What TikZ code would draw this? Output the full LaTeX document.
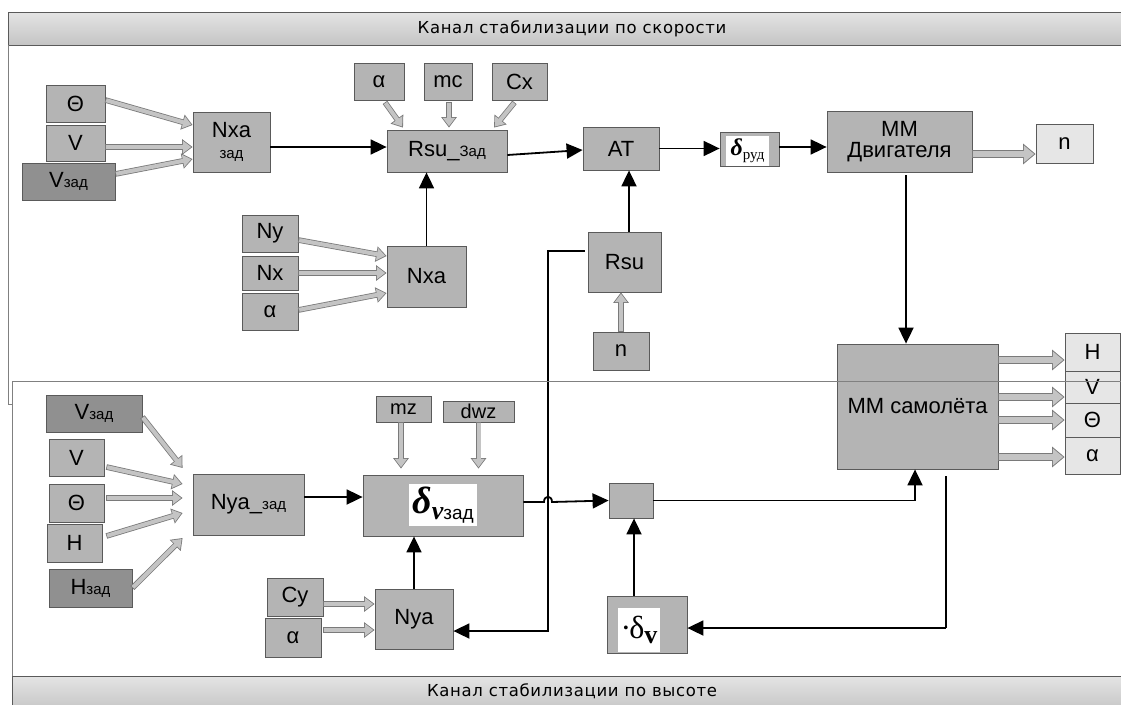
\documentclass[tikz,border=0pt]{standalone}
\usepackage{fontspec}
\setmainfont{Liberation Sans}
\newfontfamily\ser{Liberation Serif}
\newfontfamily\bandf[LetterSpace=4]{DejaVu Sans}
\usetikzlibrary{arrows.meta,calc}
\definecolor{bx}{HTML}{B4B4B4}
\definecolor{bxd}{HTML}{909090}
\definecolor{bxl}{HTML}{E6E6E6}
\definecolor{edgec}{HTML}{5A5A5A}
\definecolor{afill}{HTML}{C4C4C4}
\definecolor{aedge}{HTML}{7A7A7A}
\definecolor{bandt}{HTML}{E4E4E4}
\definecolor{bandb}{HTML}{C4C4C4}
\definecolor{framec}{HTML}{808080}
\begin{document}
\begin{tikzpicture}[x=1pt,y=-1pt,
 box/.style={draw=edgec, line width=0.8pt, fill=bx, inner sep=0pt, font=\fontsize{22}{24}\selectfont, align=center},
 dbox/.style={box, fill=bxd},
 lbox/.style={box, fill=bxl},
 wlab/.style={fill=white, inner sep=0pt},
 blk/.style={line width=1.8pt, -{Triangle[length=16pt,width=15pt]}},
 garrow/.style={line width=4pt, draw=afill, shorten <=0.8pt, shorten >=1.4pt, -{Triangle[length=8.3pt,width=11.9pt]},
   preaction={draw=aedge, line width=5.6pt, shorten <=0pt, shorten >=0pt, -{Triangle[length=10.5pt,width=15pt]}}},
 garrowb/.style={line width=5.8pt, draw=afill, shorten <=0.9pt, shorten >=1.45pt, -{Triangle[length=10.2pt,width=16.3pt]},
   preaction={draw=aedge, line width=7.6pt, shorten <=0pt, shorten >=0pt, -{Triangle[length=12.5pt,width=20pt]}}},
 frame/.style={draw=framec, line width=0.8pt},
 bandtext/.style={font=\bandf\fontsize{16.5}{16.5}\selectfont},
]
\useasboundingbox (0,0) rectangle (1121,704);
\def\sm{\fontsize{15}{15}\selectfont}

% bands
\shade[top color=bandt, bottom color=bandb, draw=edgec, line width=1pt] (8,12) rectangle (1130,45);
\node[bandtext] (t1) at (572,29) {Канал стабилизации по скорости};
\shade[top color=bandt, bottom color=bandb, draw=edgec, line width=1pt] (12,676) rectangle (1130,712);
\node[bandtext] (t2) at (572,691) {Канал стабилизации по высоте};

% ---- top channel
\node[box, minimum width=59, minimum height=37] (th1) at (75.5,103.5) {Θ};
\node[box, minimum width=59, minimum height=36] (v1) at (75.5,143) {V};
\node[dbox, minimum width=93, minimum height=37] (vz1) at (68.5,181.5) {V{\sm зад}};
\node[box, minimum width=77, minimum height=60] (nxz) at (231.5,142) {Nxa\\[-3pt]{\sm зад}};
\node[box, minimum width=50, minimum height=37] (al1) at (379,81.5) {α};
\node[box, minimum width=48, minimum height=37] (mc) at (448,81.5) {mc};
\node[box, minimum width=55, minimum height=37] (cx) at (519.5,81.5) {Cx};
\node[box, minimum width=120, minimum height=42] (rsz) at (447,151) {Rsu\_{\sm Зад}};
\node[box, minimum width=76, minimum height=43] (at) at (621,148.5) {AT};
\node[box, minimum width=59, minimum height=34] (dr) at (749.5,149) {};
\node[wlab, minimum width=43, minimum height=30] (drl) at (747.5,151) {{\ser\bfseries\itshape\fontsize{24}{24}\selectfont δ}\raisebox{-4pt}{\ser\fontsize{15}{15}\selectfont руд}};
\node[box, minimum width=145, minimum height=61] (mmd) at (899.5,141.5) {ММ\\[-3pt]Двигателя};
\node[lbox, minimum width=57, minimum height=39] (n1) at (1064.5,143.5) {n};
\node[box, minimum width=56, minimum height=37] (ny) at (270,233.5) {Ny};
\node[box, minimum width=56, minimum height=34] (nx) at (270,273) {Nx};
\node[box, minimum width=56, minimum height=37] (al2) at (270,311.5) {α};
\node[box, minimum width=79, minimum height=61] (nxa) at (426.5,276.5) {Nxa};
\node[box, minimum width=73, minimum height=60] (rsu) at (624.5,262) {Rsu};
\node[box, minimum width=56, minimum height=38] (n2) at (621,351) {n};

% ---- bottom channel
\node[dbox, minimum width=96, minimum height=37] (vz2) at (94,413.5) {V{\sm зад}};
\node[box, minimum width=55, minimum height=37] (v2) at (76.5,457.5) {V};
\node[box, minimum width=55, minimum height=38] (th2) at (76.5,503) {Θ};
\node[box, minimum width=55, minimum height=38] (h2) at (74.5,543) {H};
\node[dbox, minimum width=83, minimum height=38] (hz2) at (90.5,588) {H{\sm зад}};
\node[box, minimum width=111, minimum height=61] (nyz) at (248.5,504.5) {Nya\_{\sm зад}};
\node[box, minimum width=55, minimum height=26, font=\fontsize{20}{20}\selectfont] (mz) at (403.5,409) {mz};
\node[box, minimum width=71, minimum height=21, font=\fontsize{20}{20}\selectfont] (dwz) at (478.5,411.5) {dwz};
\node[box, minimum width=160, minimum height=61] (dvz) at (443,505.5) {};
\node[wlab, minimum width=68, minimum height=42] (dvzl) at (443,505) {{\ser\bfseries\itshape\fontsize{38}{38}\selectfont δ}\raisebox{-6pt}{{\ser\bfseries\itshape\fontsize{26}{26}\selectfont v}{\fontsize{19}{19}\selectfont зад}}};
\node[box, minimum width=44, minimum height=35] (sb) at (631,500.5) {};
\node[box, minimum width=161, minimum height=125] (mms) at (917.5,406.5) {ММ самолёта};
\node[lbox, minimum width=55, minimum height=38] (oh) at (1092.5,352) {H};
\node[lbox, minimum width=55, minimum height=32] (ov) at (1092.5,387) {V};
\node[lbox, minimum width=55, minimum height=34] (oth) at (1092.5,420) {Θ};
\node[lbox, minimum width=55, minimum height=37] (oal) at (1092.5,455.5) {α};
\node[box, minimum width=56, minimum height=38] (cy) at (295,597) {Cy};
\node[box, minimum width=56, minimum height=39] (al3) at (293,637.5) {α};
\node[box, minimum width=78, minimum height=60] (nya) at (414,619) {Nya};
\node[box, minimum width=80, minimum height=57] (dv) at (647,624.5) {};
\node[wlab, minimum width=42, minimum height=44] (dvl) at (639,630) {{\ser\fontsize{32}{32}\selectfont ·\kern-2ptδ}\raisebox{-5pt}{\ser\bfseries\fontsize{26}{26}\selectfont v}};

% ---- gray arrows (top)
\draw[garrow] ($(th1.east)+(0,-3.5)$) -- ($(nxz.west)+(0,-17)$);
\draw[garrow] ($(v1.east)+(0,4)$) -- ($(nxz.west)+(0,5)$);
\draw[garrow] ($(vz1.east)+(0,-7.5)$) -- ($(nxz.west)+(0,17)$);
\draw[garrow] ($(al1.south)+(6,2)$) -- ($(rsz.north)+(-44,-2)$);
\draw[garrow] ($(mc.south)+(1,2)$) -- ($(rsz.north)+(2,-2)$);
\draw[garrow] ($(cx.south)+(-5,2)$) -- ($(rsz.north)+(47,-2)$);
\draw[garrowb] ($(mmd.east)+(0,12.5)$) -- ($(n1.west)+(0,10.5)$);
\draw[garrow] ($(ny.east)+(0,6.5)$) -- ($(nxa.west)+(0,-20.5)$);
\draw[garrow] (nx.east) -- ($(nxa.west)+(0,-3.5)$);
\draw[garrow] ($(al2.east)+(0,-1.5)$) -- ($(nxa.west)+(0,16.5)$);
\draw[garrow] (n2.north) -- (n2.north |- rsu.south);

% ---- gray arrows (bottom)
\draw[garrow] ($(vz2.east)+(0,3.5)$) -- ($(nyz.west)+(-10,-36.5)$);
\draw[garrow] ($(v2.east)+(2,9.5)$) -- ($(nyz.west)+(-10,-20.5)$);
\draw[garrow] ($(th2.east)+(2,-5)$) -- ($(nyz.west)+(-10,-6.5)$);
\draw[garrow] ($(h2.east)+(4,-7)$) -- ($(nyz.west)+(-10,8.5)$);
\draw[garrow] (hz2.east) -- ($(nyz.west)+(-10,33.5)$);
\draw[garrow] ($(mz.south)+(-2.5,0)$) -- ($(dvz.north)+(-42,-6)$);
\draw[garrow] (dwz.south) -- ($(dvz.north)+(35.5,-6)$);
\draw[garrow] ($(cy.east)+(0,7)$) -- ($(nya.west)+(0,-15)$);
\draw[garrow] ($(al3.east)+(2,-7.5)$) -- ($(nya.west)+(0,11)$);
\draw[garrowb] ($(mms.east)+(0,-46.5)$) -- ($(oh.west)+(0,8)$);
\draw[garrowb] ($(mms.east)+(0,-9.5)$) -- ($(ov.west)+(0,10)$);
\draw[garrowb] ($(mms.east)+(0,13.5)$) -- (oth.west);
\draw[garrowb] ($(mms.east)+(0,50.5)$) -- ($(oal.west)+(0,1.5)$);

% ---- black connectors
\draw[blk] ($(nxz.east)+(0,5)$) -- ($(rsz.west)+(0,-4)$);
\draw[blk] ($(rsz.east)+(0,4)$) -- ($(at.west)+(0,1.5)$);
\draw[blk] (at.east) -- (at.east -| dr.west);
\draw[blk] ($(dr.east)+(0,-2)$) -- ($(mmd.west)+(0,5.5)$);
\coordinate (xa) at (906,0);
\draw[blk] ($(mmd.south -| xa)+(0,3)$) -- (mms.north -| xa);
\draw[blk] (nxa.north) -- (nxa.north |- rsz.south);
\coordinate (xr) at (629,0);
\draw[blk] (rsu.north -| xr) -- (at.south -| xr);
\coordinate (c1) at (548,251);
\coordinate (c2) at (548,631);
\draw[blk] ($(rsu.west)+(-3,-11)$) -- (c1) -- (c2) -- (nya.east |- c2);
\draw[blk] (nya.north) -- (nya.north |- dvz.south);
\draw[blk] ($(nyz.east)+(0,-7.5)$) -- ($(dvz.west)+(0,-8.5)$);
\coordinate (h1) at (544,502);
\coordinate (h2) at (552,502);
\draw[blk] ($(dvz.east)+(0,-3.5)$) -- (h1) .. controls (544,495) and (552,495) .. (h2) -- (sb.west);
\coordinate (xb) at (915,500.5);
\draw[blk] (sb.east) -- (xb) -- (mms.south -| xb);
\coordinate (xc) at (634,0);
\draw[blk] (dv.north -| xc) -- (sb.south -| xc);
\coordinate (xd1) at (946,476);
\coordinate (xd2) at (946,628);
\draw[line width=1.8pt] (mms.south -| xd1) ++(0,7) -- (xd2);
\draw[blk] (xd2) -- (dv.east |- xd2);

% ---- frames
\draw[frame] (8,45) -- (8,404) -- (12,404);
\draw[frame] (1130,381) -- (12,381) -- (12,676);
\end{tikzpicture}
\end{document}
